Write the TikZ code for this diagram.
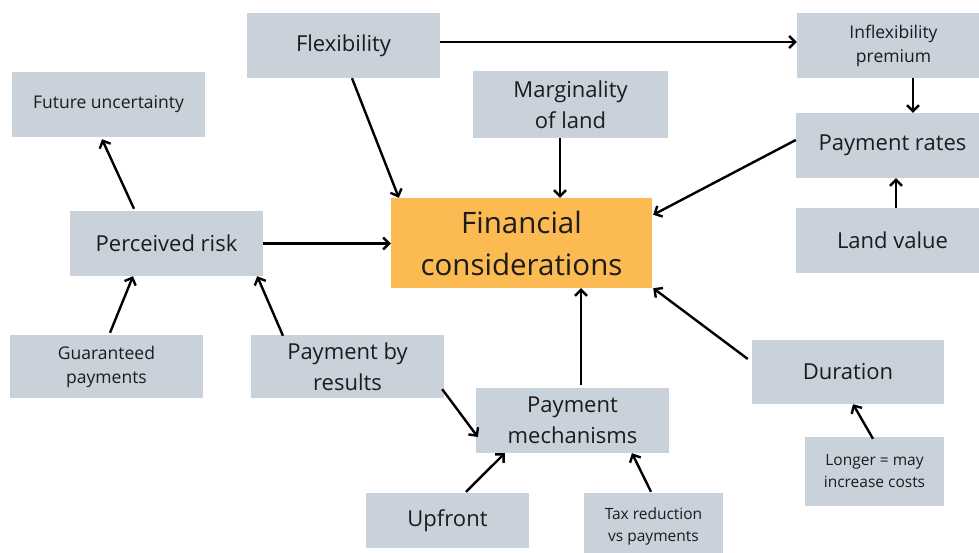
\documentclass[tikz,border=0pt]{standalone}
\usepackage{fontspec}
\setmainfont{Open Sans}
\usetikzlibrary{arrows.meta}
\definecolor{boxgray}{RGB}{201,209,219}
\definecolor{finorange}{RGB}{251,186,82}
\definecolor{txt}{RGB}{28,28,28}
\tikzset{
  box/.style={fill=boxgray, draw=none, inner sep=0pt, align=center, text=txt,
    minimum width=193pt, minimum height=65pt, font=\fontsize{22}{31}\selectfont},
  smallbox/.style={box, font=\fontsize{17.5}{24}\selectfont},
  tinybox/.style={box, font=\fontsize{15.5}{22}\selectfont},
  finbox/.style={fill=finorange, draw=none, inner sep=0pt, align=center, text=txt,
    minimum width=261pt, minimum height=90pt, font=\fontsize{29.5}{42}\selectfont},
  conn/.style={line width=2.4pt, draw=black, -{Straight Barb[length=6pt,width=12pt,line width=2.4pt]}}
}
\begin{document}
\begin{tikzpicture}[x=1pt,y=-1pt]
\clip (0,0) rectangle (979,553);
\fill[white] (0,0) rectangle (979,553);
\node[box] (flex) at (343.5,45.5) {Flexibility};
\node[smallbox] (inflex) at (893.5,45.5) {Inflexibility\\premium};
\node[smallbox] (future) at (108.5,104.5) {Future uncertainty};
\node[box, minimum width=195pt, minimum height=67pt] (marg) at (570.5,104.5) {Marginality\\of land};
\node[box] (rates) at (892.5,145.5) {Payment rates};
\node[finbox] (fin) at (521.5,243) {Financial\\considerations};
\node[box] (risk) at (166.5,243.5) {Perceived risk};
\node[box] (land) at (892.5,240.5) {Land value};
\node[smallbox, minimum height=63pt] (guar) at (106.5,366.5) {Guaranteed\\payments};
\node[box, minimum height=63pt] (pbr) at (347.5,366.5) {Payment by\\results};
\node[box, minimum width=192pt, minimum height=64pt] (dur) at (848,372) {Duration};
\node[box] (paymech) at (572.5,420.5) {Payment\\mechanisms};
\node[tinybox, minimum width=139pt, minimum height=69pt] (longer) at (874.5,471.5) {Longer = may\\increase costs};
\node[box, minimum width=163pt, minimum height=55pt] (upfront) at (447.5,520.5) {Upfront};
\node[tinybox, minimum width=139pt, minimum height=66pt] (tax) at (653.5,526) {Tax reduction\\vs payments};

\draw[conn] ([xshift=8.5pt]flex.south) -- ([xshift=8pt]fin.north west);
\draw[conn] ([yshift=3.5pt]flex.east) -- ([yshift=3.5pt]flex.east -| inflex.west);
\draw[conn] ([xshift=-10.5pt]marg.south) -- ([xshift=-10.5pt]marg.south |- fin.north);
\draw[conn] ([xshift=19.5pt]inflex.south) -- ([xshift=19.5pt]inflex.south |- rates.north);
\draw[conn] ([xshift=3.5pt]land.north) -- ([xshift=3.5pt]land.north |- rates.south);
\draw[conn] ([yshift=5.5pt]rates.west) -- ([xshift=1pt,yshift=-17pt]fin.north east);
\draw[conn] (risk.east) -- (risk.east -| fin.west);
\draw[conn] ([xshift=-32.5pt,yshift=2pt]risk.north) -- ([xshift=-6.5pt,yshift=-2pt]future.south);
\draw[conn] ([xshift=3.5pt,yshift=2pt]guar.north) -- ([xshift=-33.5pt]risk.south);
\draw[conn] ([xshift=-64.5pt,yshift=-1pt]pbr.north) -- ([xshift=-6pt]risk.south east);
\draw[conn] ([xshift=-2pt,yshift=9pt]pbr.south east) -- ([xshift=2pt,yshift=-16.5pt]paymech.west);
\draw[conn] ([xshift=8.5pt,yshift=3pt]paymech.north) -- ([xshift=8.5pt]paymech.north |- fin.south);
\draw[conn] ([xshift=-4pt,yshift=13pt]dur.west) -- ([xshift=1pt]fin.south east);
\draw[conn] ([xshift=-1.5pt,yshift=-2pt]longer.north) -- ([xshift=5pt]dur.south);
\draw[conn] ([xshift=18.5pt,yshift=1pt]upfront.north) -- ([xshift=29pt]paymech.south west);
\draw[conn] ([xshift=-2.5pt,yshift=1pt]tax.north) -- ([xshift=59.5pt]paymech.south);
\end{tikzpicture}
\end{document}
